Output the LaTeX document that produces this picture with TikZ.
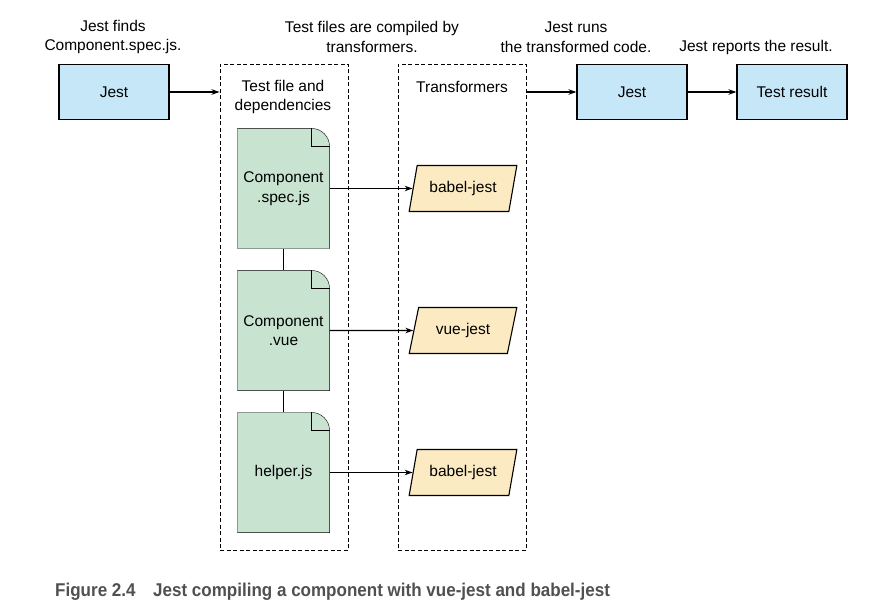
\documentclass[tikz,border=0pt]{standalone}
\usepackage{fontspec}
\setmainfont{Liberation Sans}
\newfontfamily\capfont[FakeStretch=0.92]{Liberation Sans}
\usetikzlibrary{backgrounds,shapes.geometric,arrows.meta}
\definecolor{jestblue}{HTML}{C6E7F8}
\definecolor{docgreen}{HTML}{C8E4D0}
\definecolor{xformyellow}{HTML}{FCEBC2}
\definecolor{capgray}{HTML}{505050}

\begin{document}
\begin{tikzpicture}[x=1pt,y=1pt,line width=1.1pt,>={Stealth[length=8pt,width=5.5pt]},
	every node/.style={font=\fontsize{15.5}{19.5}\selectfont}]
	% `stage' is used for the blue boxes, `srcfile' for the green files.
	% `xform' is used for the yellow transformers, `group' for the dashed boxes.
	\tikzstyle{stage} = [draw,fill=jestblue,minimum width=110,minimum height=55]
	\tikzstyle{srcfile} = [minimum width=91,minimum height=119,align=center,inner sep=0pt]
	\tikzstyle{xform} = [draw,fill=xformyellow,trapezium,trapezium left angle=73,
		trapezium right angle=107,trapezium stretches=true,minimum width=108,minimum height=46]
	\tikzstyle{group} = [draw,dash pattern=on 4pt off 2.5pt,line width=0.9pt,minimum width=128,minimum height=486]
	\tikzstyle{note} = [align=center,inner sep=0pt]
	\tikzstyle{link} = [->,line width=1.3pt]
	\useasboundingbox (0,0) rectangle (877,-609);
	%
	% Boxes.
	\node[stage] (jest1) at (114,-92) {Jest};
	\node[group] (files) at (284,-307) {};
	\node[group] (xforms) at (462,-307) {};
	\node[stage] (jest2) at (632,-92) {Jest};
	\node[stage] (result) at (792,-92) {Test result};
	% Files.
	\node[srcfile] (spec) at (283.5,-188.5) {Component\\.spec.js};
	\node[srcfile] (vue) at (283.5,-330.5) {Component\\.vue};
	\node[srcfile] (helper) at (283.5,-472.5) {helper.js};
	% Transformers.
	\node[xform] (babel1) at (463,-188.5) {babel-jest};
	\node[xform] (vuejest) at (463,-330.5) {vue-jest};
	\node[xform] (babel2) at (463,-472.5) {babel-jest};
	% Notes.
	\node[note] (n1) at (113,-37) {Jest finds\\Component.spec.js.};
	\node[note] (n2) at (372,-37) {Test files are compiled by\\transformers.};
	\node[note] (n3) at (576,-37) {Jest runs\\the transformed code.};
	\node[note] (n4) at (756,-47) {Jest reports the result.};
	\node[note] (t1) at (283,-97) {Test file and\\dependencies};
	\node[note] (t2) at (462,-87) {Transformers};
	%
	\begin{pgfonlayer}{background}
		% Draw file shapes.
		\foreach \f in {spec,vue,helper} {
			\draw[fill=docgreen] (\f.south west) -- (\f.north west) -- ([xshift=-18]\f.north east)
				to[out=0,in=90] ([yshift=-18]\f.north east) -- (\f.south east) -- cycle;
			\draw ([xshift=-18]\f.north east) |- ([yshift=-18]\f.north east);
		}
		% Draw lines.
		\draw (spec) -- (vue) (vue) -- (helper);
	\end{pgfonlayer}
	\draw[link] (jest1) -- (jest1 -| files.west);
	\draw[link] (jest2 -| xforms.east) -- (jest2);
	\draw[link] (jest2) -- (result);
	\draw[link] (spec.east) -- (babel1);
	\draw[link] (vue.east) -- (vuejest);
	\draw[link] (helper.east) -- (babel2);
	%
	% Caption.
	\node[anchor=base west,text=capgray,inner sep=0pt,font=\capfont\bfseries\fontsize{18.5}{22}\selectfont] (caption) at (55,-596)
		{Figure 2.4\hspace{0.95em}Jest compiling a component with vue-jest and babel-jest};
\end{tikzpicture}
\end{document}
